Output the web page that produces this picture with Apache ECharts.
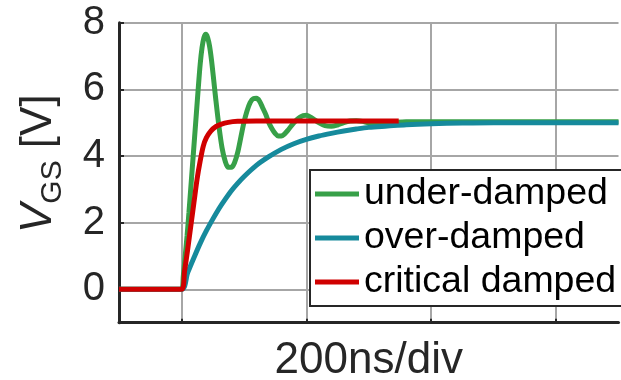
<!DOCTYPE html>
<html>
<head>
<meta charset="utf-8">
<script src="https://cdn.jsdelivr.net/npm/echarts@6/dist/echarts.min.js"></script>
<style>
html,body{margin:0;padding:0;background:#fff;}
#chart{width:621px;height:380px;}
</style>
</head>
<body>
<div id="chart"></div>
<script>
// time in ns, voltage in V
var underT = [-100, 0, 3, 6, 9, 12, 15, 18, 21, 24, 27, 30, 33, 36, 39, 42, 45, 48, 51, 55, 60, 65, 70, 75, 80, 85, 90, 95, 100, 105, 110, 115, 120, 125, 130, 135, 140, 145, 150, 155, 160, 165, 170, 180, 190, 200, 210, 220, 230, 240, 250, 260, 270, 280, 290, 300, 320, 340, 360, 400, 500, 700];
var underV = [0, 0, 0.4, 1.0, 1.6, 2.3, 3.05, 3.8, 4.55, 5.3, 6.05, 6.75, 7.25, 7.55, 7.65, 7.55, 7.3, 6.9, 6.4, 5.7, 4.9, 4.25, 3.85, 3.66, 3.66, 3.8, 4.1, 4.55, 5.0, 5.35, 5.6, 5.72, 5.73, 5.65, 5.45, 5.25, 5.0, 4.82, 4.68, 4.6, 4.6, 4.66, 4.76, 5.0, 5.17, 5.22, 5.13, 5.0, 4.91, 4.89, 4.93, 5.0, 5.05, 5.06, 5.04, 5.0, 4.98, 5.01, 5.03, 5.03, 5.03, 5.03];

var overT = [-100, 0, 10, 20, 30, 40, 50, 60, 70, 80, 90, 100, 120, 140, 160, 180, 200, 220, 240, 260, 280, 300, 330, 360, 400, 450, 500, 700];
var overV = [0, 0, 0.5, 0.95, 1.38, 1.76, 2.1, 2.42, 2.7, 2.96, 3.18, 3.38, 3.72, 3.98, 4.2, 4.37, 4.5, 4.6, 4.68, 4.75, 4.81, 4.86, 4.9, 4.94, 4.97, 4.99, 5.0, 5.0];

var critT = [-100, 0, 5, 10, 15, 20, 25, 30, 35, 40, 47, 55, 63, 75, 90, 120, 348];
var critV = [0, 0, 0.55, 1.2, 1.9, 2.6, 3.3, 3.85, 4.3, 4.55, 4.75, 4.88, 4.95, 5.01, 5.04, 5.05, 5.05];

var names = ['under-damped', 'over-damped', 'critical damped'];
var colors = ['#37a048', '#168a9c', '#d00000'];
var yTicks = [0, 2, 4, 6, 8];
var xTicks = [0, 200, 400, 600];

function pairs(t, v) {
    var out = [];
    for (var i = 0; i < t.length; i++) out.push([t[i], v[i]]);
    return out;
}

var myChart = echarts.init(document.getElementById('chart'));
var font = 'Liberation Sans, Arial, Helvetica, sans-serif';

var option = {
    backgroundColor: '#fff',
    animation: false,
    textStyle: { fontFamily: font },
    grid: { left: 119, right: 2.5, top: 22.7, bottom: 57.3, containLabel: false, outerBoundsMode: 'none' },
    legend: {
        left: 310,
        top: 170,
        orient: 'vertical',
        icon: 'rect',
        itemWidth: 44,
        itemHeight: 5,
        itemGap: 4,
        padding: [4, 12, 4, 5],
        borderColor: '#262626',
        borderWidth: 2,
        backgroundColor: '#fff',
        textStyle: { fontSize: 37.5, color: '#000', fontFamily: font, lineHeight: 40 },
        data: names
    },
    xAxis: {
        type: 'value',
        min: -100,
        max: 700,
        interval: 100,
        name: '200ns/div',
        nameLocation: 'middle',
        nameGap: 16,
        nameTextStyle: { fontSize: 44, color: '#262626', verticalAlign: 'top' },
        axisLine: { onZero: false, lineStyle: { color: '#262626', width: 3 } },
        axisTick: { show: true, inside: true, length: 4, customValues: xTicks, lineStyle: { color: '#262626', width: 2 } },
        axisLabel: { show: false },
        splitLine: { show: true, lineStyle: { color: '#a6a6a6', width: 2 } }
    },
    yAxis: {
        type: 'value',
        min: -1,
        max: 8,
        interval: 1,
        name: '{v|V}{s|GS}{n| [V]}',
        nameLocation: 'middle',
        nameRotate: 90,
        nameGap: 58,
        nameTextStyle: {
            padding: [0, 0, 0, 18],
            rich: {
                v: { fontSize: 44, fontStyle: 'italic', color: '#262626', lineHeight: 44, verticalAlign: 'middle' },
                s: { fontSize: 30, color: '#262626', lineHeight: 30, padding: [28, 0, 0, 0] },
                n: { fontSize: 44, color: '#262626', lineHeight: 44, verticalAlign: 'middle' }
            }
        },
        axisLine: { show: true, onZero: false, lineStyle: { color: '#262626', width: 3 } },
        axisTick: { show: true, inside: true, length: 5, customValues: yTicks, lineStyle: { color: '#262626', width: 2 } },
        axisLabel: { fontSize: 40, color: '#262626', margin: 14, customValues: yTicks },
        splitLine: { show: true, lineStyle: { color: '#a6a6a6', width: 2 } }
    },
    series: [
        { name: names[0], type: 'line', data: pairs(underT, underV), smooth: 0.3, showSymbol: false, lineStyle: { width: 5, color: colors[0] }, itemStyle: { color: colors[0] }, z: 2 },
        { name: names[1], type: 'line', data: pairs(overT, overV), smooth: 0.3, showSymbol: false, lineStyle: { width: 5, color: colors[1] }, itemStyle: { color: colors[1] }, z: 3 },
        { name: names[2], type: 'line', data: pairs(critT, critV), smooth: 0.3, showSymbol: false, lineStyle: { width: 5, color: colors[2] }, itemStyle: { color: colors[2] }, z: 4 }
    ]
};

myChart.setOption(option);
</script>
</body>
</html>
